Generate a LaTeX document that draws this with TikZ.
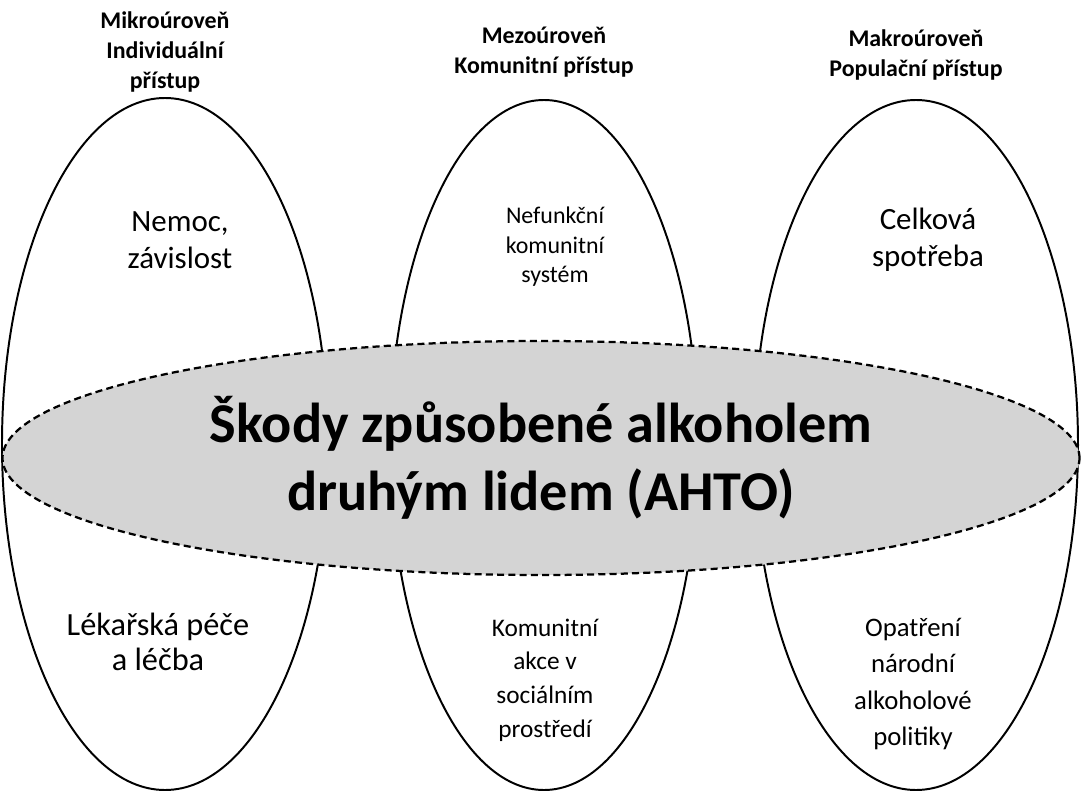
\documentclass[tikz,border=0pt]{standalone}
\usepackage{fontspec}
\setmainfont{Carlito}
\usetikzlibrary{shapes.geometric}
\begin{document}
\begin{tikzpicture}[x=0.025cm,y=-0.025cm,
  level/.style={font=\bfseries\fontsize{17}{21}\selectfont,align=center},
  item/.style={align=center,font=\fontsize{22}{26}\selectfont},
  pillar/.style={draw,line width=1.4pt}]
\useasboundingbox[fill=white] (0,0) rectangle (1083,800);

% vertical ellipses
\draw[pillar] (165,444) ellipse [x radius=163,y radius=346];
\draw[pillar] (544,445) ellipse [x radius=154,y radius=345];
\draw[pillar] (916,445) ellipse [x radius=162,y radius=345];

% central ellipse
\node[draw,dash pattern=on 5pt off 3pt,line width=1.6pt,fill=black!17,ellipse,inner sep=0pt,
  minimum width=1077*0.025cm,minimum height=234*0.025cm,
  font=\bfseries\fontsize{40}{48}\selectfont,align=center] (ahto) at (541,458)
  {Škody způsobené alkoholem\\druhým lidem (AHTO)};

% levels
\node[level] (mikro) at (165,52) {Mikroúroveň\\Individuální\\přístup};
\node[level] (mezo) at (544,52) {Mezoúroveň\\Komunitní přístup};
\node[level] (makro) at (916,55) {Makroúroveň\\Populační přístup};

% items
\node[item] (nemoc) at (180,240) {Nemoc,\\závislost};
\node[item,font=\fontsize{17}{21}\selectfont] (nefunk) at (555,247) {Nefunkční\\komunitní\\systém};
\node[item] (spotreba) at (928,240) {Celková\\spotřeba};
\node[item,font=\fontsize{23}{25}\selectfont] (pece) at (158,642) {Lékařská péče\\a léčba};
\node[item,font=\fontsize{18}{24}\selectfont] (akce) at (545,680) {Komunitní\\akce v\\sociálním\\prostředí};
\node[item,font=\fontsize{19}{26}\selectfont] (politika) at (913,684) {Opatření\\národní\\alkoholové\\politiky};
\end{tikzpicture}
\end{document}
